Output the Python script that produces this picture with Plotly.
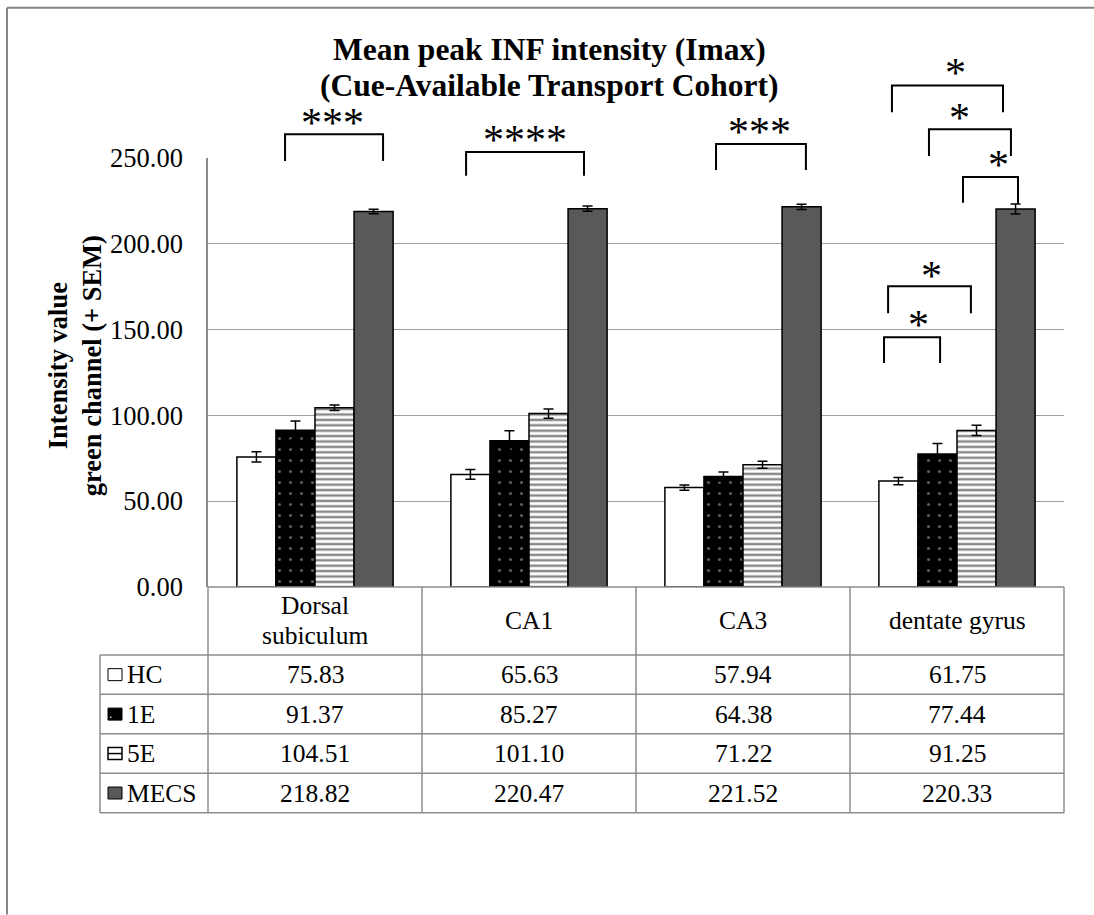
import plotly.graph_objects as go

# ---------------- data ----------------
categories = ["Dorsal<br>subiculum", "CA1", "CA3", "dentate gyrus"]
series_names = ["HC", "1E", "5E", "MECS"]
hc = [75.83, 65.63, 57.94, 61.75]
e1 = [91.37, 85.27, 64.38, 77.44]
e5 = [104.51, 101.10, 71.22, 91.25]
mecs = [218.82, 220.47, 221.52, 220.33]
hc_sem = [3.0, 2.8, 1.5, 2.1]
e1_sem = [5.4, 5.8, 2.6, 6.2]
e5_sem = [1.6, 2.7, 2.0, 3.0]
mecs_sem = [1.3, 1.5, 1.5, 2.9]
yticks = [0, 50, 100, 150, 200, 250]

# significance brackets: (x_left, x_right, y_top, y_left_bottom, y_right_bottom, label, x_label, y_label)
brackets = [
    (-0.140, 0.318, 263.9, 248.3, 248.3, "***", 0.084, 274.4),
    (0.706, 1.257, 253.5, 239.6, 239.6, "****", 0.981, 264.5),
    (1.874, 2.294, 258.1, 243.0, 243.0, "***", 2.079, 269.1),
    (2.696, 3.215, 292.3, 276.7, 276.7, "*", 2.995, 303.4),
    (2.869, 3.252, 266.8, 251.2, 251.2, "*", 3.014, 277.3),
    (3.028, 3.285, 239.0, 223.9, 223.3, "*", 3.192, 250.0),
    (2.678, 3.065, 175.2, 159.5, 159.5, "*", 2.883, 185.6),
    (2.659, 2.921, 145.6, 130.5, 130.5, "*", 2.822, 156.6),
]

# ---------------- layout geometry ----------------
W, H = 1094, 915
PL, PR, PT, PB = 208, 1064, 157.5, 587  # plot area in pixels
YMAX = 250
FONT = "Liberation Serif, Times New Roman, serif"
GRID = "#a0a0a0"
TLINE = "#8c8c8c"
TFS = 25.5  # table font size


def px(x):
    return (x - PL) / (PR - PL)


def py(y):
    return (PB - y) / (PB - PT)


def dx(v):  # data x -> paper
    return (v + 0.5) / 4


def dy(v):  # data y -> paper
    return v / YMAX


xs = [0, 1, 2, 3]
fig = go.Figure()
common_err = dict(type="data", visible=True, color="black", thickness=1.5, width=5)
fig.add_trace(go.Bar(x=xs, y=hc, name="HC", error_y=dict(array=hc_sem, **common_err),
                     marker=dict(color="white", line=dict(color="black", width=1.5))))
fig.add_trace(go.Bar(x=xs, y=e1, name="1E", error_y=dict(array=e1_sem, **common_err),
                     marker=dict(color="black", line=dict(color="black", width=1.5),
                                 pattern=dict(shape=".", bgcolor="black", fgcolor="#bdbdbd",
                                              size=11, solidity=0.06))))
fig.add_trace(go.Bar(x=xs, y=e5, name="5E", error_y=dict(array=e5_sem, **common_err),
                     marker=dict(color="white", line=dict(color="black", width=1.5),
                                 pattern=dict(shape="-", bgcolor="white", fgcolor="#111111",
                                              size=5.4, solidity=0.45))))
fig.add_trace(go.Bar(x=xs, y=mecs, name="MECS", error_y=dict(array=mecs_sem, **common_err),
                     marker=dict(color="#595959", line=dict(color="black", width=1.5))))

shapes = []
annotations = []

# outer chart-area frame (only top and left edges fall inside the picture)
shapes.append(dict(type="line", xref="paper", yref="paper", x0=px(7), x1=px(1094),
                   y0=py(7), y1=py(7), line=dict(color="#858585", width=2), layer="below"))
shapes.append(dict(type="line", xref="paper", yref="paper", x0=px(7), x1=px(7),
                   y0=py(7), y1=py(915), line=dict(color="#858585", width=2), layer="below"))

# table lines
col_edges = [208, 422, 636, 850, 1064]
row_edges = [587, 655, 694.5, 734, 773.5, 813]
TL = 100
for i, r in enumerate(row_edges):
    x0 = PL if i == 0 else TL
    shapes.append(dict(type="line", xref="paper", yref="paper", x0=px(x0), x1=px(PR),
                       y0=py(r), y1=py(r), line=dict(color=TLINE, width=1.5)))
for c in col_edges:
    shapes.append(dict(type="line", xref="paper", yref="paper", x0=px(c), x1=px(c),
                       y0=py(row_edges[0]), y1=py(row_edges[-1]), line=dict(color=TLINE, width=1.5)))
shapes.append(dict(type="line", xref="paper", yref="paper", x0=px(TL), x1=px(TL),
                   y0=py(row_edges[1]), y1=py(row_edges[-1]), line=dict(color=TLINE, width=1.5)))

# table header (multi-line labels split into separately placed lines)
hdr_mid = (row_edges[0] + row_edges[1]) / 2
for i, cat in enumerate(categories):
    lines = cat.split("<br>")
    n = len(lines)
    for k, ln in enumerate(lines):
        yc = hdr_mid + (k - (n - 1) / 2) * 30
        annotations.append(dict(xref="paper", yref="paper", x=dx(i), y=py(yc),
                                text=ln, showarrow=False,
                                font=dict(family=FONT, size=TFS, color="black"),
                                xanchor="center", yanchor="middle"))
# table values
all_series = [hc, e1, e5, mecs]
for r, vals in enumerate(all_series):
    yc = (row_edges[r + 1] + row_edges[r + 2]) / 2
    for i, v in enumerate(vals):
        annotations.append(dict(xref="paper", yref="paper", x=dx(i), y=py(yc),
                                text=f"{v:.2f}", showarrow=False,
                                font=dict(family=FONT, size=TFS, color="black"),
                                xanchor="center", yanchor="middle"))
    annotations.append(dict(xref="paper", yref="paper", x=px(125), y=py(yc),
                            text=series_names[r], showarrow=False,
                            font=dict(family=FONT, size=TFS, color="black"),
                            xanchor="left", yanchor="middle"))
    # legend key
    k0, k1 = 108, 122
    ky0, ky1 = yc - 6, yc + 6
    if r == 0:
        shapes.append(dict(type="rect", xref="paper", yref="paper", x0=px(k0), x1=px(k1),
                           y0=py(ky1), y1=py(ky0), fillcolor="white", line=dict(color="black", width=1)))
    elif r == 1:
        shapes.append(dict(type="rect", xref="paper", yref="paper", x0=px(k0), x1=px(k1),
                           y0=py(ky1), y1=py(ky0), fillcolor="black", line=dict(color="black", width=1)))
        shapes.append(dict(type="rect", xref="paper", yref="paper", x0=px(k0 + 2), x1=px(k0 + 3.5),
                           y0=py(ky1 - 2), y1=py(ky1 - 3.5), fillcolor="#cccccc", line=dict(width=0)))
    elif r == 2:
        shapes.append(dict(type="rect", xref="paper", yref="paper", x0=px(k0), x1=px(k1),
                           y0=py(ky1), y1=py(ky0), fillcolor="white", line=dict(color="black", width=1.5)))
        shapes.append(dict(type="line", xref="paper", yref="paper", x0=px(k0), x1=px(k1),
                           y0=py(yc), y1=py(yc), line=dict(color="black", width=1.5)))
    else:
        shapes.append(dict(type="rect", xref="paper", yref="paper", x0=px(k0), x1=px(k1),
                           y0=py(ky1), y1=py(ky0), fillcolor="#595959", line=dict(color="black", width=1)))

# significance brackets
for (xl, xr, yt, ybl, ybr, lab, xlab, ylab) in brackets:
    shapes.append(dict(type="path", xref="paper", yref="paper",
                       path=f"M {dx(xl)} {dy(ybl)} L {dx(xl)} {dy(yt)} L {dx(xr)} {dy(yt)} L {dx(xr)} {dy(ybr)}",
                       line=dict(color="black", width=2)))
    annotations.append(dict(xref="paper", yref="paper", x=dx(xlab), y=dy(ylab), text=lab,
                            showarrow=False, font=dict(family=FONT, size=42, color="black"),
                            xanchor="center", yanchor="middle", yshift=-7))

# title (two lines placed separately)
title_lines = ["Mean peak INF intensity (Imax)", "(Cue-Available Transport Cohort)"]
for k, (t, yc) in enumerate(zip(title_lines, [49, 85])):
    annotations.append(dict(xref="paper", yref="paper", x=px(549), y=py(yc),
                            text=f"<b>{t}</b>", showarrow=False,
                            font=dict(family=FONT, size=31.5, color="black"),
                            xanchor="center", yanchor="middle"))
# y-axis title
annotations.append(dict(xref="paper", yref="paper", x=px(75), y=py(366),
                        text="<b>Intensity value<br>green channel (+ SEM)</b>", textangle=-90,
                        showarrow=False, font=dict(family=FONT, size=26.5, color="black"),
                        xanchor="center", yanchor="middle"))

fig.update_layout(
    width=W, height=H,
    margin=dict(l=PL, r=W - PR, t=PT, b=H - PB, autoexpand=False),
    paper_bgcolor="white", plot_bgcolor="white",
    barmode="group", bargap=0.27, bargroupgap=0,
    showlegend=False,
    shapes=shapes, annotations=annotations,
    font=dict(family=FONT, color="black"),
    xaxis=dict(range=[-0.5, 3.5], showticklabels=False, showgrid=False, zeroline=False,
               showline=False, ticks=""),
    yaxis=dict(range=[0, YMAX], tickvals=yticks, tickformat=".2f", showgrid=True,
               gridcolor=GRID, gridwidth=1.3, zeroline=False, showline=True,
               linecolor=TLINE, linewidth=1.5, ticks="", ticklabelstandoff=18,
               tickfont=dict(family=FONT, size=26.5, color="black")),
)

fig.write_html("out.html")
